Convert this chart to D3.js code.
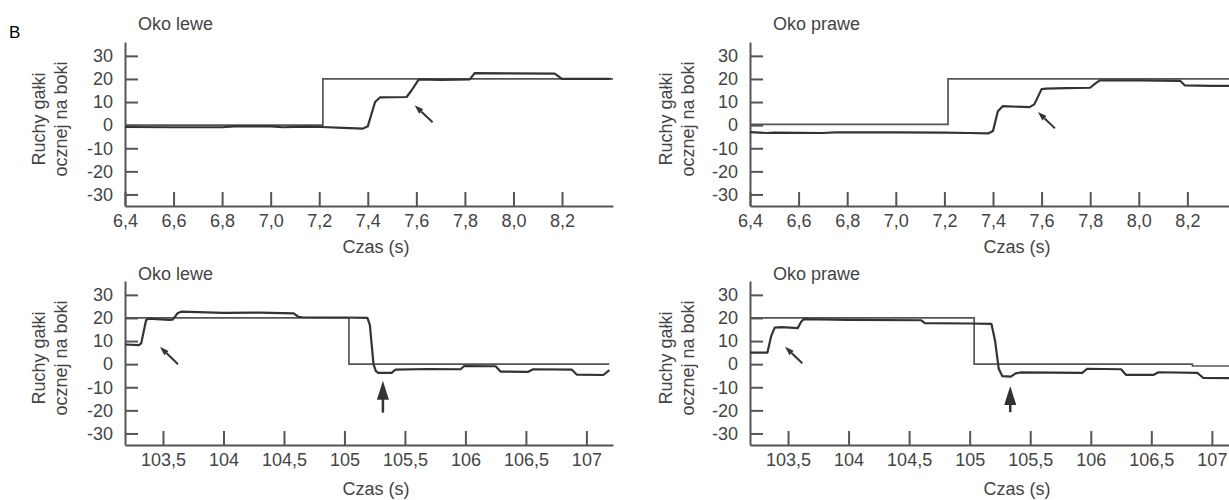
<!DOCTYPE html>
<html>
<head>
<meta charset="utf-8">
<script src="https://cdn.jsdelivr.net/npm/d3@7/dist/d3.min.js"></script>
<style>
  body { margin: 0; background: #fff; }
  svg { display: block; font-family: "Liberation Sans", Arial, sans-serif; }
  .axis path, .axis line { stroke: #555; stroke-width: 2; }
  .axis text { font-size: 18px; fill: #444; font-family: "Liberation Sans", Arial, sans-serif; }
  .lbl { font-size: 18px; fill: #444; }
  .target { fill: none; stroke: #555; stroke-width: 1.7; }
  .eye { fill: none; stroke: #333; stroke-width: 2.2; stroke-linejoin: round; }
</style>
</head>
<body>
<script>
// ------------------------------------------------------------
// Ruchy gałki ocznej - oko lewe / prawe, dwa przedziały czasu
// ------------------------------------------------------------

// y ticks (shared by all panels)
var yTicks = [-30, -20, -10, 0, 10, 20, 30];
var yTickLabels = ["-30", "-20", "-10", "0", "10", "20", "30"];

// x ticks, upper row (6,4 - 8,2 s)
var upperTicks = [6.4, 6.6, 6.8, 7.0, 7.2, 7.4, 7.6, 7.8, 8.0, 8.2];
var upperTickLabels = ["6,4", "6,6", "6,8", "7,0", "7,2", "7,4", "7,6", "7,8", "8,0", "8,2"];

// x ticks, lower row (103,5 - 107 s)
var lowerTicks = [103.5, 104, 104.5, 105, 105.5, 106, 106.5, 107];
var lowerTickLabels = ["103,5", "104", "104,5", "105", "105,5", "106", "106,5", "107"];

// target (stimulus) positions, [t, deg] - step after
var tlTarget = [[6.4, 0], [7.215, 20], [8.41, 20]];
var trTarget = [[6.4, 0.3], [7.215, 20], [8.6, 20]];
var blTarget = [[103.186, 20], [105.037, 0], [107.19, 0]];
var brTarget = [[103.186, 20], [105.037, 0], [106.84, -0.8], [107.6, -0.8]];

// eye positions, [t, deg]
var tlEye = [[6.40, -0.8], [6.60, -0.9], [6.80, -0.9], [6.85, -0.5], [7.00, -0.5], [7.05, -0.9],
  [7.15, -0.6], [7.21, -0.8], [7.30, -1.2], [7.38, -1.5], [7.40, -0.5], [7.43, 10], [7.45, 12],
  [7.56, 12.2], [7.58, 15], [7.61, 19.8], [7.70, 19.6], [7.82, 19.8], [7.84, 22.5], [8.17, 22.3],
  [8.20, 20], [8.40, 20]];
var trEye = [[6.40, -3.0], [6.47, -3.4], [6.50, -3.2], [6.70, -3.4], [6.75, -3.1], [7.00, -3.1],
  [7.20, -3.2], [7.30, -3.4], [7.38, -3.6], [7.40, -2.5], [7.42, 6], [7.44, 8.2], [7.55, 7.8],
  [7.57, 9], [7.60, 15.6], [7.62, 15.8], [7.70, 16.0], [7.80, 16.2], [7.82, 18], [7.84, 19.4],
  [8.00, 19.4], [8.17, 19.2], [8.19, 17.2], [8.30, 17.0], [8.60, 17.2]];
var blEye = [[103.19, 8.5], [103.30, 8.2], [103.32, 9], [103.36, 19], [103.38, 19.7], [103.55, 19.2],
  [103.58, 19.3], [103.62, 22], [103.65, 22.7], [104.0, 22.2], [104.3, 22.3], [104.58, 22],
  [104.62, 20.5], [104.65, 20.3], [105.0, 20.2], [105.19, 20], [105.21, 17], [105.24, 0],
  [105.26, -3], [105.28, -3.8], [105.39, -3.8], [105.42, -2.4], [105.7, -2.1], [105.96, -2.2],
  [105.99, -0.8], [106.25, -0.9], [106.29, -3.2], [106.52, -3.3], [106.56, -2.2], [106.88, -2.4],
  [106.92, -4.5], [107.14, -4.7], [107.19, -2.6]];
var brEye = [[103.186, 5], [103.33, 5], [103.36, 12], [103.39, 15.8], [103.45, 16.0], [103.58, 15.6],
  [103.61, 18.5], [103.63, 19.5], [104.0, 19.2], [104.6, 19.0], [104.63, 17.8], [105.0, 17.6],
  [105.18, 17.4], [105.21, 10], [105.24, -2], [105.27, -5.2], [105.34, -5.4], [105.38, -4],
  [105.42, -3.6], [105.93, -3.8], [105.97, -2.0], [106.25, -2.2], [106.29, -4.6], [106.52, -4.6],
  [106.56, -3.5], [106.88, -3.8], [106.93, -6.0], [107.6, -6.2]];

// arrows: [tail, tip]
var tlArrow = [[7.667, 1.3], [7.593, 8.6]];
var trArrow = [[7.655, -1.4], [7.585, 5.7]];
var blArrow = [[103.624, 0], [103.475, 7.5]];
var brArrow = [[103.618, 0.4], [103.475, 7.5]];
var blSaccade = [[105.318, -21], [105.318, -7.2]];
var brSaccade = [[105.335, -20.8], [105.335, -9.5]];

var panels = [
  { title: "Oko lewe",  x0: 125, x1: 613,  top: 42,  bottom: 206, domain: [6.4, 8.41],
    ticks: upperTicks, labels: upperTickLabels, target: tlTarget, eye: tlEye, arrow: tlArrow,
    titleX: 138, titleY: 30, ylabX: 45, czasY: 253 },
  { title: "Oko prawe", x0: 750, x1: 1270, top: 42,  bottom: 206, domain: [6.4, 8.54],
    ticks: upperTicks, labels: upperTickLabels, target: trTarget, eye: trEye, arrow: trArrow,
    titleX: 773, titleY: 30, ylabX: 672, czasY: 253 },
  { title: "Oko lewe",  x0: 125, x1: 613,  top: 281, bottom: 445, domain: [103.186, 107.22],
    ticks: lowerTicks, labels: lowerTickLabels, target: blTarget, eye: blEye, arrow: blArrow,
    saccade: blSaccade, titleX: 138, titleY: 280, ylabX: 45, czasY: 495 },
  { title: "Oko prawe", x0: 750, x1: 1270, top: 281, bottom: 445, domain: [103.186, 107.48],
    ticks: lowerTicks, labels: lowerTickLabels, target: brTarget, eye: brEye, arrow: brArrow,
    saccade: brSaccade, titleX: 773, titleY: 280, ylabX: 672, czasY: 495 }
];

var W = 1229, H = 500;
var svg = d3.select("body").append("svg").attr("width", W).attr("height", H);

svg.append("text")
  .attr("x", 9).attr("y", 38)
  .style("font-size", "17px").style("fill", "#000")
  .text("B");

panels.forEach(function(p) {
  var x = d3.scaleLinear().domain(p.domain).range([p.x0, p.x1]);
  var y = d3.scaleLinear().domain([-35, 36]).range([p.bottom, p.top]);
  var g = svg.append("g");

  // axes
  g.append("g")
    .attr("class", "axis")
    .attr("transform", "translate(" + p.x0 + ",0)")
    .call(d3.axisLeft(y).tickValues(yTicks)
      .tickFormat(function(d, i) { return yTickLabels[i]; })
      .tickSize(-13).tickSizeOuter(0).tickPadding(12));

  g.append("g")
    .attr("class", "axis")
    .attr("transform", "translate(0," + p.bottom + ")")
    .call(d3.axisBottom(x).tickValues(p.ticks)
      .tickFormat(function(d, i) { return p.labels[i]; })
      .tickSize(-14).tickSizeOuter(0).tickPadding(8));

  // target (step) and eye traces
  var stepLine = d3.line()
    .x(function(d) { return x(d[0]); })
    .y(function(d) { return y(d[1]); })
    .curve(d3.curveStepAfter);
  var eyeLine = d3.line()
    .x(function(d) { return x(d[0]); })
    .y(function(d) { return y(d[1]); });

  g.append("path").attr("class", "target").attr("d", stepLine(p.target));
  g.append("path").attr("class", "eye").attr("d", eyeLine(p.eye));

  // thin arrow
  var ax1 = x(p.arrow[0][0]), ay1 = y(p.arrow[0][1]);
  var ax2 = x(p.arrow[1][0]), ay2 = y(p.arrow[1][1]);
  var ang = Math.atan2(ay2 - ay1, ax2 - ax1);
  var hl = 9, hw = 3;
  var bx = ax2 - hl * Math.cos(ang), by = ay2 - hl * Math.sin(ang);
  g.append("line")
    .attr("x1", ax1).attr("y1", ay1).attr("x2", bx).attr("y2", by)
    .attr("stroke", "#333").attr("stroke-width", 2);
  g.append("path")
    .attr("d", "M" + ax2 + "," + ay2 +
      "L" + (bx + hw * Math.sin(ang)) + "," + (by - hw * Math.cos(ang)) +
      "L" + (bx - hw * Math.sin(ang)) + "," + (by + hw * Math.cos(ang)) + "Z")
    .attr("fill", "#333");

  // thick saccade arrow
  if (p.saccade) {
    var sx = x(p.saccade[0][0]);
    var sy1 = y(p.saccade[0][1]), sy2 = y(p.saccade[1][1]);
    g.append("line")
      .attr("x1", sx).attr("y1", sy1).attr("x2", sx).attr("y2", sy2 + 14)
      .attr("stroke", "#333").attr("stroke-width", 2.5);
    g.append("path")
      .attr("d", "M" + sx + "," + sy2 + "L" + (sx + 6) + "," + (sy2 + 19) +
        "L" + (sx - 6) + "," + (sy2 + 19) + "Z")
      .attr("fill", "#333");
  }

  // titles
  g.append("text").attr("class", "lbl")
    .attr("x", p.titleX).attr("y", p.titleY)
    .text(p.title);

  g.append("text").attr("class", "lbl")
    .attr("x", (p.x0 + p.x1) / 2 + 7).attr("y", p.czasY)
    .attr("text-anchor", "middle")
    .text("Czas (s)");

  var yl = g.append("text").attr("class", "lbl")
    .attr("transform", "translate(" + p.ylabX + "," + (p.top + 77) + ") rotate(-90)")
    .attr("text-anchor", "middle");
  yl.append("tspan").attr("x", 0).attr("dy", 0).text("Ruchy gałki");
  yl.append("tspan").attr("x", 0).attr("dy", 22).text("ocznej na boki");
});
</script>
</body>
</html>
